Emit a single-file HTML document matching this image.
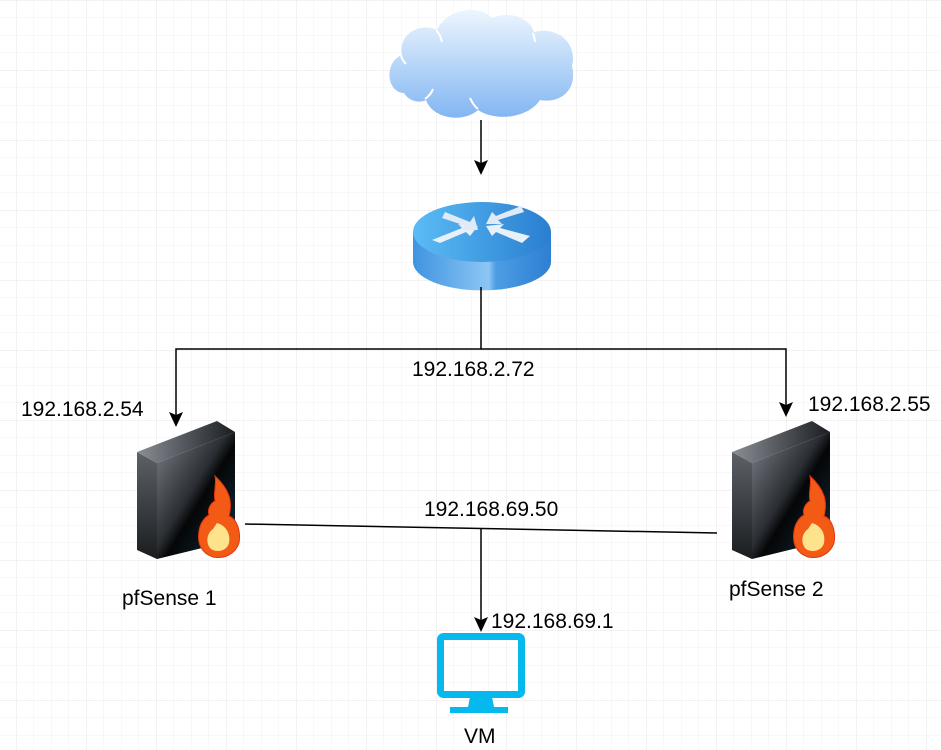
<!DOCTYPE html>
<html><head><meta charset="utf-8"><style>
html,body{margin:0;padding:0;background:#fff;}
svg{display:block;}
text{font-family:"Liberation Sans",Arial,sans-serif;font-size:21px;fill:#000;}
</style></head><body>
<svg width="941" height="750" viewBox="0 0 941 750" xmlns="http://www.w3.org/2000/svg">
<defs>
<pattern id="minor" x="16" y="0" width="17.5" height="17.5" patternUnits="userSpaceOnUse">
<path d="M0 0V17.5M0 0H17.5" stroke="#f0f0f0" stroke-width="1" fill="none"/>
</pattern>
<pattern id="major" x="16" y="0" width="70" height="70" patternUnits="userSpaceOnUse">
<path d="M0 0V70M0 0H70" stroke="#e4e4e4" stroke-width="1" fill="none"/>
</pattern>
<linearGradient id="cloud" x1="0" y1="0" x2="0" y2="1">
<stop offset="0" stop-color="#eef6fe"/><stop offset="1" stop-color="#82b6f2"/>
</linearGradient>
<linearGradient id="rside" x1="0" y1="0" x2="1" y2="0">
<stop offset="0" stop-color="#3f94e0"/><stop offset="0.55" stop-color="#8cc6f5"/><stop offset="0.6" stop-color="#4c9de4"/><stop offset="1" stop-color="#2e7fd2"/>
</linearGradient>
<linearGradient id="rtop" x1="0" y1="0" x2="1" y2="0">
<stop offset="0" stop-color="#5bbcf5"/><stop offset="1" stop-color="#2a7ed0"/>
</linearGradient>
<linearGradient id="front" x1="0" y1="0" x2="1" y2="1">
<stop offset="0" stop-color="#7d8289"/><stop offset="0.45" stop-color="#2b2f34"/><stop offset="0.55" stop-color="#050607"/><stop offset="1" stop-color="#123040"/>
</linearGradient>
<linearGradient id="topf" x1="0" y1="0" x2="1" y2="0">
<stop offset="0" stop-color="#8a8f96"/><stop offset="1" stop-color="#1a1d21"/>
</linearGradient>
<linearGradient id="side" x1="0" y1="0" x2="0" y2="1">
<stop offset="0" stop-color="#5d6268"/><stop offset="1" stop-color="#1a1c1f"/>
</linearGradient>
<g id="fw">
<polygon points="0,31 20,42 20,138 0,129" fill="url(#side)"/>
<polygon points="0,31 80,0 98,11 20,42" fill="url(#topf)"/>
<polygon points="20,42 98,11 98,119 20,138" fill="url(#front)"/>
<path d="M78,55 C92,68 96,80 92,95 C100,98 104,110 102,122 C98,134 86,138 76,136 C64,132 60,122 62,110 C63,102 68,96 72,94 C70,88 74,82 78,80 C76,72 80,62 78,55 Z" fill="#f25a16" stroke="#e23510" stroke-width="1"/>
<path d="M80,102 C88,104 94,112 92,122 C90,130 80,132 74,128 C68,122 70,112 76,108 Z" fill="#ffe38c"/>
</g>
</defs>
<rect width="941" height="750" fill="#fff"/>
<rect width="941" height="750" fill="url(#minor)"/>
<rect width="941" height="750" fill="url(#major)"/>

<!-- cloud -->
<path d="M404,93 C386,92 384,62 402,55 C398,34 420,22 437,30 C447,8 480,4 492,18 C510,10 530,18 534,32 C556,26 578,42 572,66 C578,90 560,104 540,100 C528,118 496,122 478,110 C462,124 432,118 426,100 C418,104 408,100 404,93 Z" fill="url(#cloud)"/>
<path d="M401,55 C402,60 404,62 406,64 M436,30 C440,34 441,38 442,42 M533,33 C534,37 535,39 535,42 M425,99 C429,96 432,92 433,89 M478,109 C474,106 472,102 470,98" stroke="#fff" stroke-width="2" fill="none"/>

<!-- router -->
<path d="M413,232 L413,262 A68,28 0 0 0 551,262 L551,232 Z" fill="url(#rside)"/>
<ellipse cx="482" cy="232" rx="69" ry="30" fill="url(#rtop)"/>
<path d="M432,240 L462,228 L458,224 L478,226 L470,236 L466,232 L440,243 Z" fill="#e8f0f8"/>
<path d="M530,236 L500,228 L504,224 L486,226 L492,236 L496,232 L522,243 Z" fill="#e8f0f8"/>
<path d="M445,212 L470,222 L474,216 L478,230 L462,230 L466,226 L442,218 Z" fill="#dfeaf6"/>
<path d="M521,206 L496,216 L492,212 L486,224 L502,224 L498,220 L524,212 Z" fill="#dfeaf6"/>

<!-- connectors -->
<g stroke="#000" stroke-width="1.5" fill="none">
<line x1="481" y1="120" x2="481" y2="165"/>
<polyline points="481,287 481,349 176,349 176,415"/>
<polyline points="481,349 786,349 786,405"/>
<line x1="245" y1="524" x2="717" y2="533"/>
<line x1="481" y1="528" x2="481" y2="620"/>
</g>
<g fill="#000">
<polygon points="474,160 481,175 488,160 481,163"/>
<polygon points="169,412 176,427 183,412 176,415"/>
<polygon points="779,402 786,417 793,402 786,405"/>
<polygon points="474,617 481,632 488,617 481,620"/>
</g>

<use href="#fw" x="137" y="421"/>
<use href="#fw" x="732" y="421"/>

<!-- monitor -->
<rect x="440.5" y="636.5" width="81" height="58" rx="3" fill="none" stroke="#05b9ee" stroke-width="7"/>
<path d="M470,697 L492,697 L494,707 L508,707 L508,713 L450,713 L450,707 L468,707 Z" fill="#05b9ee"/>

<!-- labels -->
<text x="412" y="376">192.168.2.72</text>
<text x="21" y="416">192.168.2.54</text>
<text x="808" y="411">192.168.2.55</text>
<text x="424" y="516">192.168.69.50</text>
<text x="491" y="628">192.168.69.1</text>
<text x="122" y="605">pfSense 1</text>
<text x="729" y="596">pfSense 2</text>
<text x="464" y="743">VM</text>
</svg>
</body></html>
